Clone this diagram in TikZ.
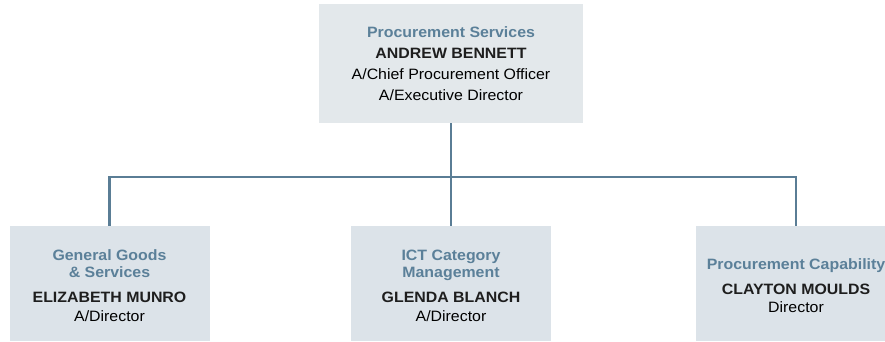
\documentclass[tikz,border=0pt]{standalone}
\usepackage{fontspec}
\setmainfont{Liberation Sans}[FakeStretch=1.06]
\definecolor{linec}{HTML}{5A7D95}
\definecolor{titlec}{HTML}{5B8099}
\definecolor{topfill}{HTML}{E3E8EB}
\definecolor{botfill}{HTML}{DCE3E9}
\definecolor{namec}{HTML}{1E1E1E}
\begin{document}
\begin{tikzpicture}[x=1pt,y=1pt,
  topbox/.style={rectangle, fill=topfill, minimum width=264pt, minimum height=119pt, inner sep=0pt},
  botbox/.style={rectangle, fill=botfill, minimum width=200pt, minimum height=115pt, inner sep=0pt},
  toptext/.style={inner sep=0pt, align=center, font=\fontsize{15}{21}\selectfont},
  bottext/.style={inner sep=0pt, align=center, font=\fontsize{15}{16.5}\selectfont},
  conn/.style={draw=linec, line width=2.6pt}]
\useasboundingbox (0,0) rectangle (885,-341);
\clip (0,0) rectangle (885,-341);
\node[topbox] (top) at (451,-63.5) {};
\node[botbox] (b1) at (109.5,-283.5) {};
\node[botbox] (b2) at (451,-283.5) {};
\node[botbox] (b3) at (796,-283.5) {};
\node[toptext] (topt) at ([yshift=-0.5pt]top.center) {{\color{titlec}\bfseries Procurement Services}\\{\color{namec}\bfseries ANDREW BENNETT}\\A/Chief Procurement Officer\\A/Executive Director};
\node[bottext] (b1t) at ([yshift=-2.5pt]b1.center) {{\color{titlec}\bfseries General Goods}\\{\color{titlec}\bfseries \& Services}\\[8.5pt]{\color{namec}\bfseries ELIZABETH MUNRO}\\[3pt]A/Director};
\node[bottext] (b2t) at ([yshift=-2.5pt]b2.center) {{\color{titlec}\bfseries ICT Category}\\{\color{titlec}\bfseries Management}\\[8.5pt]{\color{namec}\bfseries GLENDA BLANCH}\\[3pt]A/Director};
\node[bottext] (b3t) at ([yshift=-2pt]b3.center) {{\color{titlec}\bfseries Procurement Capability}\\[8.5pt]{\color{namec}\bfseries CLAYTON MOULDS}\\[2pt]Director};
\coordinate (bar) at (451,-177);
\draw[conn] (top.south) -- (top.south |- bar);
\draw[conn] (b1.north) -- (b1.north |- bar) -- (b3.north |- bar) -- (b3.north);
\draw[conn] (b2.north) -- (b2.north |- bar);
\end{tikzpicture}
\end{document}
